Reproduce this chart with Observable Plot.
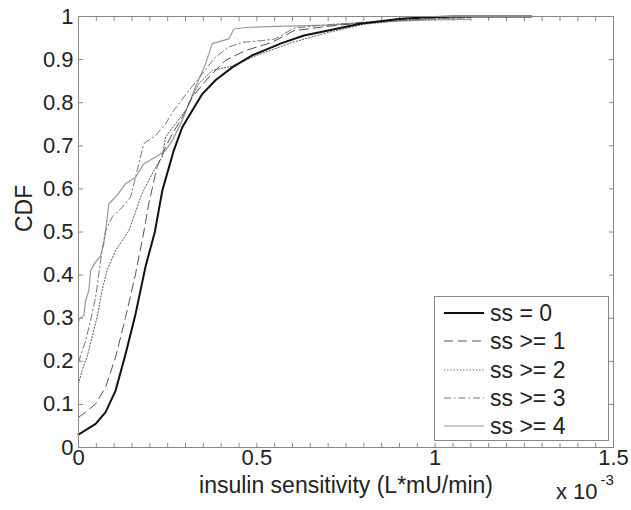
<!DOCTYPE html>
<html><head><meta charset="utf-8">
<script src="https://cdn.jsdelivr.net/npm/d3@7"></script>
<script src="https://cdn.jsdelivr.net/npm/@observablehq/plot@0.6"></script>
<style>
body{margin:0;background:#fff;}
#wrap{position:relative;width:631px;height:510px;font-family:"Liberation Sans",Arial,sans-serif;color:#222;}
#legend{position:absolute;left:434px;top:296px;width:175px;height:145px;border:1px solid #888;box-sizing:border-box;background:#fff;}
.row{position:absolute;left:0;height:28px;line-height:28px;font-size:23px;white-space:nowrap;}
.row svg{position:absolute;left:8px;top:9px;}
.row span{position:absolute;left:55px;}
</style>
</head><body>
<div id="wrap"><div id="chart"></div><div id="legend"></div></div>
<script>
// ---- data ----
const seriesNames = ["ss = 0", "ss >= 1", "ss >= 2", "ss >= 3", "ss >= 4"];
const ss0X = [0, 0.01, 0.048, 0.076, 0.104, 0.132, 0.16, 0.188, 0.214, 0.235, 0.267, 0.291, 0.319, 0.347, 0.384, 0.431, 0.487, 0.543, 0.566, 0.632, 0.697, 0.79, 0.903, 0.978, 1.05, 1.27];
const ss0Y = [0.03, 0.035, 0.055, 0.082, 0.132, 0.217, 0.31, 0.42, 0.5, 0.596, 0.689, 0.743, 0.782, 0.82, 0.852, 0.882, 0.91, 0.929, 0.937, 0.956, 0.967, 0.983, 0.995, 0.998, 1.0, 1.0];
const ss1X = [0, 0.02, 0.048, 0.076, 0.104, 0.132, 0.16, 0.183, 0.197, 0.22, 0.244, 0.263, 0.291, 0.319, 0.365, 0.412, 0.468, 0.543, 0.604, 0.697, 0.79, 0.9, 1.0, 1.1];
const ss1Y = [0.07, 0.082, 0.101, 0.14, 0.21, 0.302, 0.403, 0.5, 0.565, 0.65, 0.697, 0.728, 0.766, 0.813, 0.859, 0.898, 0.921, 0.94, 0.967, 0.977, 0.985, 0.993, 0.997, 1.0];
const ss2X = [0, 0.01, 0.024, 0.038, 0.052, 0.066, 0.08, 0.104, 0.141, 0.178, 0.216, 0.235, 0.244, 0.272, 0.3, 0.337, 0.375, 0.431, 0.5, 0.55, 0.6, 0.7, 0.8, 0.9, 1.0, 1.1];
const ss2Y = [0.148, 0.179, 0.21, 0.256, 0.302, 0.364, 0.411, 0.457, 0.503, 0.589, 0.65, 0.674, 0.72, 0.751, 0.782, 0.844, 0.875, 0.885, 0.91, 0.925, 0.94, 0.963, 0.982, 0.99, 0.995, 0.998];
const ss3X = [0, 0.02, 0.034, 0.048, 0.057, 0.066, 0.076, 0.094, 0.122, 0.146, 0.16, 0.178, 0.183, 0.216, 0.244, 0.267, 0.309, 0.347, 0.384, 0.421, 0.459, 0.515, 0.552, 0.604, 0.697, 0.8, 0.9, 1.0, 1.1];
const ss3Y = [0.198, 0.248, 0.295, 0.349, 0.403, 0.457, 0.503, 0.534, 0.557, 0.581, 0.627, 0.689, 0.705, 0.724, 0.751, 0.782, 0.828, 0.867, 0.906, 0.929, 0.94, 0.944, 0.948, 0.973, 0.981, 0.987, 0.992, 0.995, 0.997];
const ss4X = [0, 0.002, 0.015, 0.02, 0.029, 0.034, 0.048, 0.062, 0.071, 0.076, 0.085, 0.108, 0.132, 0.16, 0.183, 0.216, 0.244, 0.263, 0.291, 0.328, 0.356, 0.375, 0.421, 0.436, 0.477, 0.552, 0.7, 0.8, 0.9, 1.0, 1.1];
const ss4Y = [0.29, 0.299, 0.306, 0.341, 0.364, 0.411, 0.43, 0.445, 0.473, 0.503, 0.565, 0.585, 0.612, 0.627, 0.658, 0.674, 0.689, 0.712, 0.759, 0.836, 0.89, 0.937, 0.948, 0.971, 0.975, 0.977, 0.98, 0.985, 0.99, 0.992, 0.993];
const xTickValues = [0, 0.5, 1, 1.5];
const xTickLabels = ["0", "0.5", "1", "1.5"];
const yTickValues = [0, 0.1, 0.2, 0.3, 0.4, 0.5, 0.6, 0.7, 0.8, 0.9, 1];
const yTickLabels = ["0", "0.1", "0.2", "0.3", "0.4", "0.5", "0.6", "0.7", "0.8", "0.9", "1"];
const xMinorTicks = d3.range(0, 31).map(i => i * 0.05);

// ---- styles ----
const FS = 23;
const styles = [
  {stroke: "#111", strokeWidth: 2, dash: null},
  {stroke: "#555", strokeWidth: 1, dash: "9,5"},
  {stroke: "#555", strokeWidth: 1, dash: "1.2,2"},
  {stroke: "#777", strokeWidth: 1, dash: "7,3,1.5,3"},
  {stroke: "#999", strokeWidth: 1.2, dash: null}
];
const xs = [ss0X, ss1X, ss2X, ss3X, ss4X];
const ys = [ss0Y, ss1Y, ss2Y, ss3Y, ss4Y];
const tables = xs.map((X, s) => X.map((x, i) => ({series: seriesNames[s], x, y: ys[s][i]})));

const lineMarks = [4, 3, 2, 1, 0].map(s => Plot.line(tables[s], {
  x: "x", y: "y", stroke: styles[s].stroke, strokeWidth: styles[s].strokeWidth,
  strokeDasharray: styles[s].dash
}));

const chart = Plot.plot({
  width: 631, height: 510,
  marginLeft: 78, marginRight: 18, marginTop: 16, marginBottom: 63,
  x: {domain: [0, 1.5]},
  y: {domain: [0, 1]},
  style: {fontFamily: "Liberation Sans, Arial, sans-serif", fontSize: FS + "px", color: "#222", background: "#fff"},
  marks: [
    Plot.axisX({anchor: "bottom", ticks: xMinorTicks, tickSize: -4, tickFormat: () => "", stroke: "#888", label: null}),
    Plot.axisX({anchor: "top", ticks: xMinorTicks, tickSize: -4, tickFormat: () => "", stroke: "#888", label: null}),
    Plot.axisY({anchor: "left", ticks: yTickValues, tickSize: -5, tickFormat: () => "", stroke: "#888", label: null}),
    Plot.axisY({anchor: "right", ticks: yTickValues, tickSize: -5, tickFormat: () => "", stroke: "#888", label: null}),
    Plot.axisX({anchor: "bottom", ticks: xTickValues, tickSize: 0, tickPadding: 2, tickFormat: (d, i) => xTickLabels[i], label: null, fontSize: 22}),
    Plot.axisY({anchor: "left", ticks: yTickValues, tickSize: 0, tickPadding: 5, tickFormat: (d, i) => yTickLabels[i], label: null, fontSize: 22}),
    ...lineMarks,
    Plot.frame({stroke: "#888"}),
    Plot.text(["insulin sensitivity (L*mU/min)"], {frameAnchor: "bottom", dy: 45, fontSize: FS}),
    Plot.text(["CDF"], {frameAnchor: "left", rotate: -90, dx: -54, fontSize: FS}),
    Plot.text(["x 10"], {frameAnchor: "bottom-right", textAnchor: "end", dx: -16, dy: 51, fontSize: 22}),
    Plot.text(["-3"], {frameAnchor: "bottom-right", textAnchor: "start", dx: -13, dy: 37, fontSize: 15})
  ]
});
document.getElementById("chart").appendChild(chart);

// ---- legend ----
const legend = document.getElementById("legend");
seriesNames.forEach((name, s) => {
  const row = document.createElement("div");
  row.className = "row";
  row.style.top = (2 + s * 28.3) + "px";
  const st = styles[s];
  row.innerHTML = `<svg width="42" height="10"><line x1="1" x2="41" y1="5" y2="5" stroke="${st.stroke}" stroke-width="${st.strokeWidth}" ${st.dash ? `stroke-dasharray="${st.dash}"` : ""}/></svg><span>${name.replace(/>/g, "&gt;")}</span>`;
  legend.appendChild(row);
});
</script>
</body></html>
